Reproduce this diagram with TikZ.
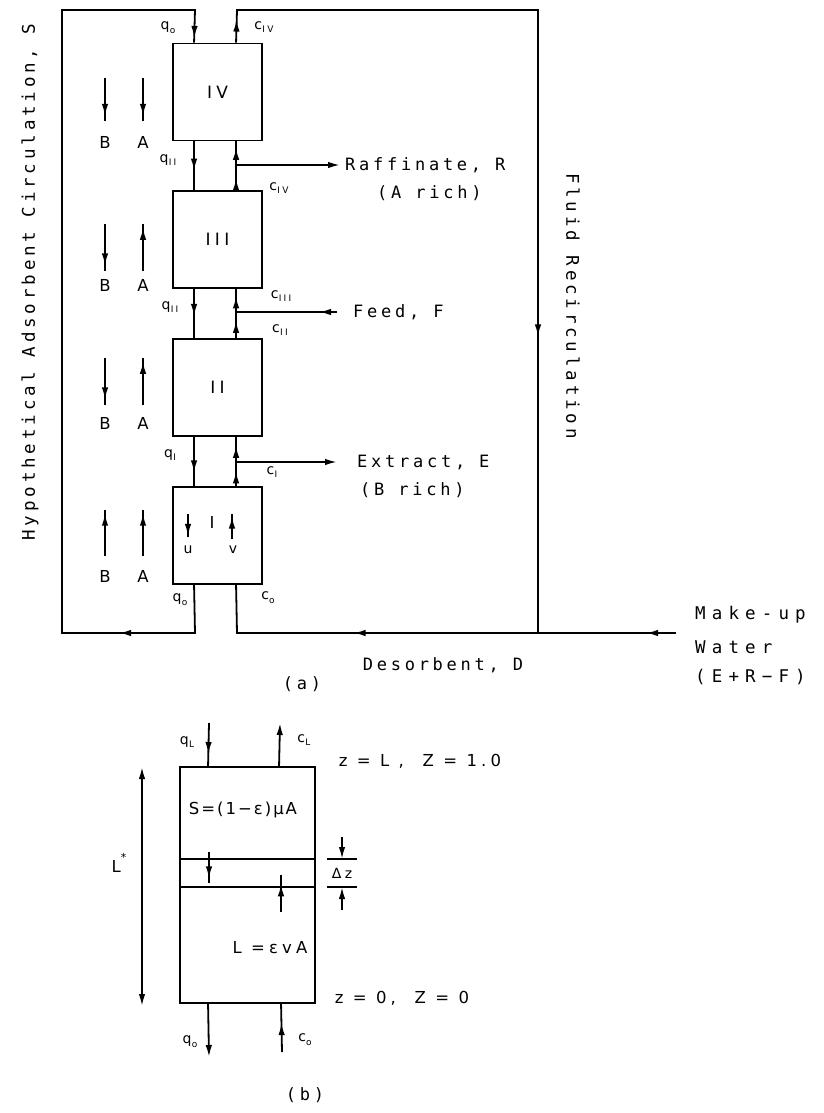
\documentclass[tikz,border=0pt]{standalone}
\usepackage{fontspec}
\setmainfont{DejaVu Sans}[LetterSpace=25]
\newfontfamily\letfam{DejaVu Sans Mono}[LetterSpace=22]
\usetikzlibrary{arrows.meta,decorations.markings}
\newcommand{\sbs}[2]{#1\kern0.3pt\raisebox{-0.5ex}{\fontsize{9}{10}\selectfont #2}}
\tikzset{
  >={Latex[length=12pt,width=6.5pt]},
  ln/.style={line width=1.8pt},
  arrat/.style={postaction={decorate},decoration={markings,mark=at position #1 with {\arrow{>}}}},
  arrtwo/.style 2 args={postaction={decorate},decoration={markings,mark=at position #1 with {\arrow{>}},mark=at position #2 with {\arrow{>}}}},
  zone/.style={draw,line width=1.9pt,minimum width=89pt,minimum height=97pt,inner sep=0pt,font=\fontsize{17}{20}\selectfont},
  big/.style={inner sep=0pt,font=\letfam\fontsize{17}{20}\selectfont},
  bigw/.style={inner sep=0pt,font=\letfam\addfontfeature{LetterSpace=35}\fontsize{17.5}{20}\selectfont},
  bigb/.style={inner sep=0pt,font=\fontsize{16.5}{20}\selectfont},
  lab/.style={inner sep=0pt,font=\fontsize{14}{16}\selectfont},
  rot/.style={inner sep=0pt,font=\letfam\fontsize{17.5}{22}\selectfont},
}
\begin{document}
\begin{tikzpicture}[x=1pt,y=-1pt]
\useasboundingbox (0,0) rectangle (824,1113);
% ---------- (a) ----------
\node[zone] (IV) at (217.5,92) {IV};
\node[zone] (III) at (217.5,239.5) {III};
\node[zone] (II) at (217.5,387.5) {II};
\node[zone] (I) at (217.5,535.5) {};
\node[bigb] (Ilab) at (212,522) {I};
% stream points
\foreach \z in {IV,III,II,I}{
  \coordinate (\z qt) at ([xshift=22pt]\z.north west);
  \coordinate (\z ct) at ([xshift=64pt]\z.north west);
  \coordinate (\z qb) at ([xshift=22pt]\z.south west);
  \coordinate (\z cb) at ([xshift=64pt]\z.south west);
}
% loop corners
\coordinate (sTL) at (62,10);
\coordinate (sTR) at (195,10);
\coordinate (sBL) at (62,633);
\coordinate (sBR) at (195,633);
\coordinate (fTL) at (237,10);
\coordinate (fTR) at (538,10);
\coordinate (fBR) at (538,633);
\coordinate (fBL) at (237,633);
\coordinate (mw) at (676,633);
% solid circulation
\draw[ln,arrtwo={124pt}{965pt}] (Iqb) -- (sBR) -- (sBL) -- (sTL) -- (sTR) -- (IVqt);
% fluid recirculation
\draw[ln,postaction={decorate},decoration={markings,
   mark=at position 23pt with {\arrow{>}},
   mark=at position 660pt with {\arrow{>}},
   mark=at position 1141pt with {\arrow{>}}}]
   (IVct) -- (fTL) -- (fTR) -- (fBR) -- (fBL) -- (Icb);
\draw[ln,arrat=30pt] (mw) -- (fBR);
% between zones
\draw[ln,arrat=0.6] (IVqb) -- (IIIqt);
\draw[ln,arrtwo={0.24}{0.87}] (IIIct) -- (IVcb);
\draw[ln,arrat=0.55] (IIIqb) -- (IIqt);
\draw[ln,arrtwo={0.35}{0.85}] (IIct) -- (IIIcb);
\draw[ln,arrat=0.72] (IIqb) -- (Iqt);
\draw[ln,arrtwo={0.3}{0.82}] (Ict) -- (IIcb);
% side streams
\coordinate (rj) at (237,165); \coordinate (re) at (340,165);
\coordinate (fj) at (237,312); \coordinate (fe) at (337,312);
\coordinate (ej) at (237,462); \coordinate (ee) at (337,462);
\draw[ln,->] (rj) -- (re);
\draw[ln,arrat=0.18] (fe) -- (fj);
\draw[ln,->] (ej) -- (ee);
\node[big,anchor=west] (raf) at (345,165) {Raffinate, R};
\node[big,anchor=west] (arich) at (377,193) {(A rich)};
\node[big,anchor=west] (feed) at (353,312) {Feed, F};
\node[big,anchor=west] (ext) at (357,462) {Extract, E};
\node[big,anchor=west] (brich) at (360,490) {(B rich)};
% stream labels
\node[lab] (l1) at (168,28) {\sbs{q}{o}};
\node[lab] (l2) at (264,27) {\sbs{c}{IV}};
\node[lab] (l3) at (168,160) {\sbs{q}{II}};
\node[lab] (l4) at (279,188) {\sbs{c}{IV}};
\node[lab] (l5) at (281,296) {\sbs{c}{III}};
\node[lab] (l6) at (170,307) {\sbs{q}{II}};
\node[lab] (l7) at (280,330) {\sbs{c}{II}};
\node[lab] (l8) at (170,455) {\sbs{q}{I}};
\node[lab] (l9) at (272,472) {\sbs{c}{I}};
\node[lab] (l10) at (180,600) {\sbs{q}{o}};
\node[lab] (l11) at (268,598) {\sbs{c}{o}};
% inner arrows of zone I
\coordinate (ut) at (188,514); \coordinate (ub) at (188,537);
\coordinate (vt) at (232,514); \coordinate (vb) at (232,539);
\draw[ln,arrat=0.95] (ut) -- (ub);
\draw[ln,arrat=0.9] (vb) -- (vt);
\node[lab] (u) at (188,550) {u};
\node[lab] (v) at (233,550) {v};
% B / A indicators
\foreach \n/\y/\ya/\yb/\da/\db in {4/142/78/121/0/0,3/285/224/271/0/1,2/423/358/405/0/1,1/576/510/556/1/1}{
  \node[bigb] (B\n) at (105,\y) {B};
  \node[bigb] (A\n) at (143,\y) {A};
  \coordinate (Bt\n) at (105,\ya); \coordinate (Bb\n) at (105,\yb);
  \coordinate (At\n) at (143,\ya); \coordinate (Ab\n) at (143,\yb);
  \ifnum\da=0 \draw[ln,arrat=0.88] (Bt\n) -- (Bb\n); \else \draw[ln,arrat=0.92] (Bb\n) -- (Bt\n); \fi
  \ifnum\db=0 \draw[ln,arrat=0.88] (At\n) -- (Ab\n); \else \draw[ln,arrat=0.92] (Ab\n) -- (At\n); \fi
}
% long labels
\node[rot,rotate=90] (hyp) at (30,282) {Hypothetical Adsorbent Circulation, S};
\node[rot,rotate=-90] (fluid) at (573,306) {Fluid Recirculation};
\node[big] (des) at (443,665) {Desorbent, D};
\node[big] (capa) at (302,684) {(a)};
\node[bigw,anchor=west] (mk1) at (695,615) {Make-up};
\node[bigw,anchor=west] (mk2) at (695,647) {Water};
\node[bigw,anchor=west] (mk3) at (695,677) {(E+R−F)};
% ---------- (b) ----------
\node[draw,line width=1.9pt,minimum width=135pt,minimum height=236pt,inner sep=0pt] (col) at (247.5,885) {};
\coordinate (s1l) at (180,859); \coordinate (s1r) at (315,859);
\coordinate (s2l) at (180,887); \coordinate (s2r) at (315,887);
\draw[ln] (s1l) -- (s1r);
\draw[ln] (s2l) -- (s2r);
\coordinate (d1l) at (327,859); \coordinate (d1r) at (357,859);
\coordinate (d2l) at (327,887); \coordinate (d2r) at (357,887);
\draw[ln] (d1l) -- (d1r);
\draw[ln] (d2l) -- (d2r);
\coordinate (da1) at (342,837); \coordinate (da1e) at (342,859);
\coordinate (da2) at (342,910); \coordinate (da2e) at (342,887);
\draw[ln,->] (da1) -- (da1e);
\draw[ln,->] (da2) -- (da2e);
\node[lab] (dz) at (342,873) {Δz};
\coordinate (sa1) at (209,852); \coordinate (sa1e) at (209,883);
\coordinate (sa2) at (281,912); \coordinate (sa2e) at (281,875);
\draw[ln,arrat=0.85] (sa1) -- (sa1e);
\draw[ln,arrat=0.75] (sa2) -- (sa2e);
\coordinate (Lt) at (142,767); \coordinate (Lb) at (142,1006);
\draw[ln,<->] (Lt) -- (Lb);
\node[bigb] (Lstar) at (119,863) {L\raisebox{1.2ex}{\fontsize{11}{12}\selectfont *}};
\coordinate (qLt) at (209,723); \coordinate (qLb) at ([xshift=29pt]col.north west);
\coordinate (cLt) at (280,723); \coordinate (cLb) at ([xshift=100pt]col.north west);
\draw[ln,arrat=0.72] (qLt) -- (qLb);
\draw[ln,->] (cLb) -- (cLt);
\coordinate (q0t) at ([xshift=29pt]col.south west); \coordinate (q0b) at (209,1057);
\coordinate (c0t) at ([xshift=102pt]col.south west); \coordinate (c0b) at (282,1052);
\draw[ln,->] (q0t) -- (q0b);
\draw[ln,arrat=0.6] (c0b) -- (c0t);
\node[lab] (qL) at (187,742) {\sbs{q}{L}};
\node[lab] (cL) at (304,740) {\sbs{c}{L}};
\node[lab] (q0) at (190,1042) {\sbs{q}{o}};
\node[lab] (c0) at (305,1040) {\sbs{c}{o}};
\node[bigb] (zL) at (420,761) {z = L ,\ \ Z = 1.0};
\node[bigb,font=\addfontfeature{LetterSpace=12}\fontsize{16.5}{20}\selectfont] (S) at (243,810) {S=(1−ε)μA};
\node[bigb] (Lf) at (270,948) {L =εvA};
\node[bigb] (z0) at (402,998) {z = 0,\ \ Z = 0};
\node[big] (capb) at (305,1095) {(b)};
\end{tikzpicture}
\end{document}
